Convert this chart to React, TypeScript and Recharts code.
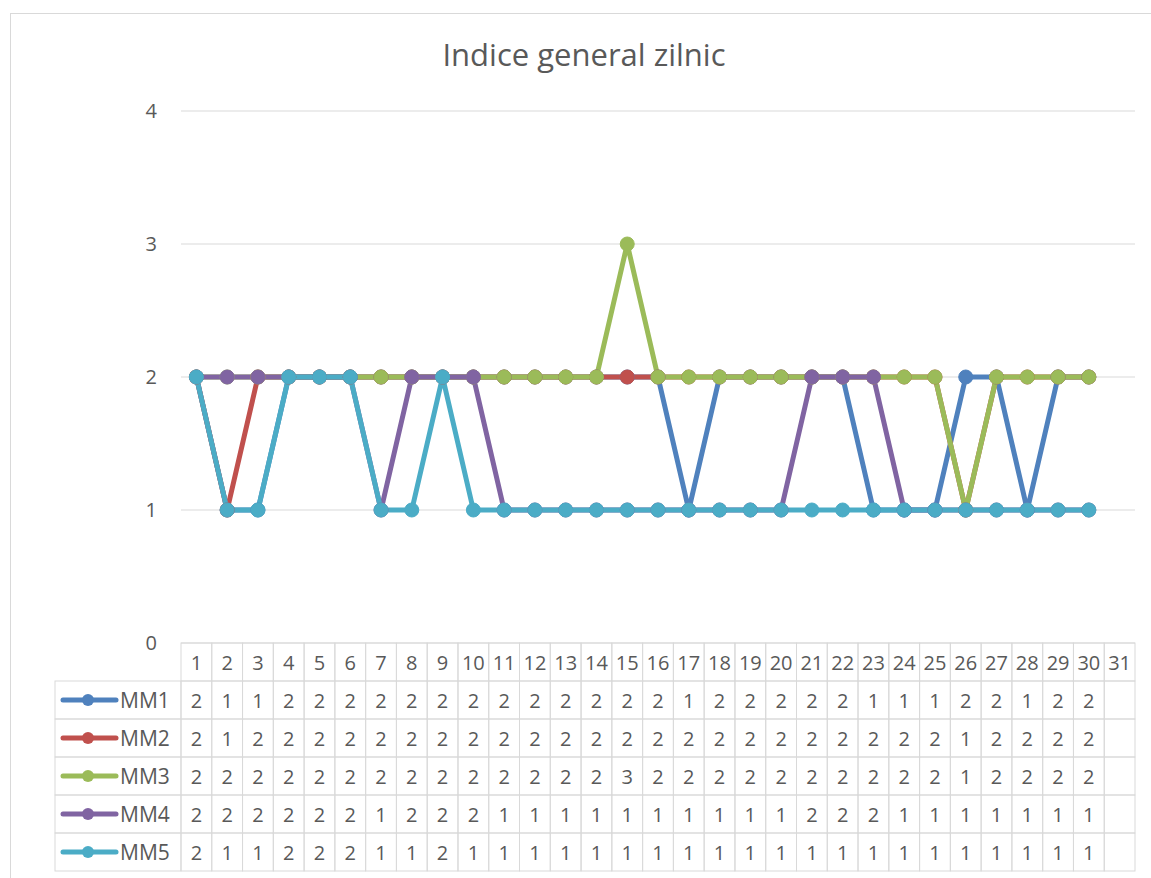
import React from 'react'
import { CartesianGrid, Line, LineChart, XAxis, YAxis } from 'recharts'

const zile = [
  1, 2, 3, 4, 5, 6, 7, 8, 9, 10, 11, 12, 13, 14, 15, 16, 17, 18, 19, 20, 21, 22, 23, 24, 25, 26,
  27, 28, 29, 30, 31
]

const mm1 = [2, 1, 1, 2, 2, 2, 2, 2, 2, 2, 2, 2, 2, 2, 2, 2, 1, 2, 2, 2, 2, 2, 1, 1, 1, 2, 2, 1, 2, 2]
const mm2 = [2, 1, 2, 2, 2, 2, 2, 2, 2, 2, 2, 2, 2, 2, 2, 2, 2, 2, 2, 2, 2, 2, 2, 2, 2, 1, 2, 2, 2, 2]
const mm3 = [2, 2, 2, 2, 2, 2, 2, 2, 2, 2, 2, 2, 2, 2, 3, 2, 2, 2, 2, 2, 2, 2, 2, 2, 2, 1, 2, 2, 2, 2]
const mm4 = [2, 2, 2, 2, 2, 2, 1, 2, 2, 2, 1, 1, 1, 1, 1, 1, 1, 1, 1, 1, 2, 2, 2, 1, 1, 1, 1, 1, 1, 1]
const mm5 = [2, 1, 1, 2, 2, 2, 1, 1, 2, 1, 1, 1, 1, 1, 1, 1, 1, 1, 1, 1, 1, 1, 1, 1, 1, 1, 1, 1, 1, 1]

const yTicks = [0, 1, 2, 3, 4]

const serii = [
  { nume: 'MM1', valori: mm1, culoare: '#4F81BD' },
  { nume: 'MM2', valori: mm2, culoare: '#C0504D' },
  { nume: 'MM3', valori: mm3, culoare: '#9BBB59' },
  { nume: 'MM4', valori: mm4, culoare: '#8064A2' },
  { nume: 'MM5', valori: mm5, culoare: '#4BACC6' }
]

const dateGrafic = zile.map((z, i) => {
  const rand: Record<string, number | null> = { zi: z }
  serii.forEach((s) => {
    rand[s.nume] = s.valori[i] ?? null
  })
  return rand
})

const LATIME = 1151
const INALTIME = 878
const STANGA = 181
const DREAPTA = 1135
const SUS = 111
const JOS = 643
const COL = (DREAPTA - STANGA) / zile.length
const RAND = 38
const LEGENDA_X = 55
const CHENAR = '#D9D9D9'
const TEXT = '#595959'
const FONT = '"Open Sans", sans-serif'

function CelulaTabel(props: any): React.JSX.Element {
  const { x, y, payload } = props
  const idx: number = payload?.index ?? props.index ?? 0
  const x0 = x - COL / 2
  return (
    <g>
      <rect x={x0} y={y} width={COL} height={RAND} fill="none" stroke={CHENAR} />
      <text
        x={x}
        y={y + RAND / 2}
        textAnchor="middle"
        dominantBaseline="central"
        fill={TEXT}
        fontSize={20}
        fontFamily={FONT}
      >
        {payload.value}
      </text>
      {serii.map((s, r) => {
        const v = s.valori[idx]
        const ty = y + RAND * (r + 1)
        return (
          <g key={s.nume}>
            <rect x={x0} y={ty} width={COL} height={RAND} fill="none" stroke={CHENAR} />
            {v !== undefined && (
              <text
                x={x}
                y={ty + RAND / 2}
                textAnchor="middle"
                dominantBaseline="central"
                fill={TEXT}
                fontSize={20}
                fontFamily={FONT}
              >
                {v}
              </text>
            )}
          </g>
        )
      })}
      {idx === 0 &&
        serii.map((s, r) => {
          const ty = y + RAND * (r + 1)
          const cy = ty + RAND / 2
          return (
            <g key={'leg' + s.nume}>
              <rect
                x={LEGENDA_X}
                y={ty}
                width={x0 - LEGENDA_X}
                height={RAND}
                fill="none"
                stroke={CHENAR}
              />
              <line
                x1={LEGENDA_X + 8}
                x2={LEGENDA_X + 61}
                y1={cy}
                y2={cy}
                stroke={s.culoare}
                strokeWidth={5}
                strokeLinecap="round"
              />
              <circle cx={LEGENDA_X + 33} cy={cy} r={6} fill={s.culoare} />
              <text
                x={LEGENDA_X + 65}
                y={cy}
                dominantBaseline="central"
                fill={TEXT}
                fontSize={21}
                fontFamily={FONT}
              >
                {s.nume}
              </text>
            </g>
          )
        })}
    </g>
  )
}

export default function App(): React.JSX.Element {
  return (
    <div style={{ position: 'fixed', left: 0, top: 0, width: LATIME, height: INALTIME, background: '#fff' }}>
      <div
        style={{
          position: 'absolute',
          left: 10,
          top: 13,
          width: LATIME,
          height: INALTIME,
          border: `1px solid ${CHENAR}`
        }}
      />
      <div
        style={{
          position: 'absolute',
          left: 0,
          top: 33,
          width: 1168,
          textAlign: 'center',
          fontFamily: FONT,
          fontSize: 31,
          color: TEXT
        }}
      >
        Indice general zilnic
      </div>
      <div style={{ position: 'absolute', left: 0, top: 0 }}>
        <LineChart
          width={LATIME}
          height={INALTIME}
          data={dateGrafic}
          margin={{ top: SUS, left: STANGA - 60, right: LATIME - DREAPTA, bottom: 0 }}
        >
          <CartesianGrid stroke={CHENAR} vertical={false} />
          <XAxis
            dataKey="zi"
            height={INALTIME - JOS}
            interval={0}
            axisLine={false}
            tickLine={false}
            tickSize={0}
            tickMargin={0}
            padding={{ left: COL / 2, right: COL / 2 }}
            tick={<CelulaTabel />}
          />
          <YAxis
            width={60}
            domain={[0, 4]}
            ticks={yTicks}
            axisLine={false}
            tickLine={false}
            tickSize={0}
            tickMargin={24}
            tick={{ fill: TEXT, fontSize: 20, fontFamily: FONT }}
          />
          {serii.map((s) => (
            <Line
              key={s.nume}
              type="linear"
              dataKey={s.nume}
              stroke={s.culoare}
              strokeWidth={5}
              dot={{ r: 7, fill: s.culoare, stroke: s.culoare, strokeWidth: 1 }}
              activeDot={false}
              isAnimationActive={false}
            />
          ))}
        </LineChart>
      </div>
    </div>
  )
}
